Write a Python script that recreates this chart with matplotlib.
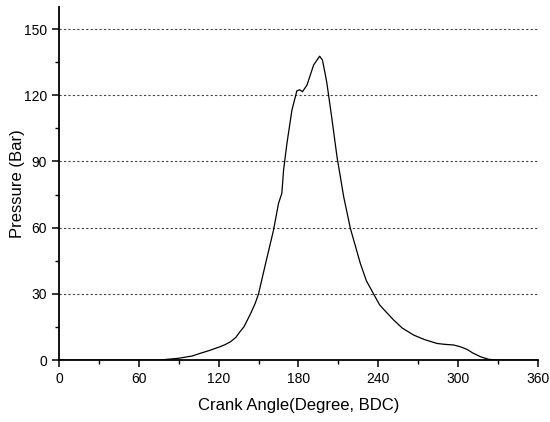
import matplotlib
matplotlib.use("Agg")
import matplotlib.pyplot as plt
from matplotlib.ticker import MultipleLocator

plt.rcParams["font.family"] = ["Liberation Sans", "DejaVu Sans"]

crank_angle = [0, 60, 76, 90, 100, 106, 113, 121, 125, 129, 133, 136, 139,
               141, 144, 147.5, 150, 155, 161.3, 165, 167.5, 168.8, 171.3,
               175.1, 178.8, 181, 183, 186.4, 191.4, 195.9, 198, 200, 201.4,
               205, 209, 214, 219, 226.5, 231, 236.5, 241, 244, 251.6, 258,
               266.6, 275, 284.2, 290, 296.7, 301.7, 306.8, 311, 316.8, 323,
               330, 360]
pressure = [0, 0, 0, 0.8, 1.8, 3.0, 4.3, 6.0, 7.0, 8.3, 10.3, 12.8, 15.0,
            17.4, 21.0, 25.7, 30, 43, 59, 71, 75.5, 86, 98,
            113.3, 122, 122.5, 121.6, 124.6, 133.7, 137.7, 136, 130, 125.4,
            110, 92, 74, 59.7, 43.8, 36, 29.9, 25, 23, 18.1, 14.5,
            11.3, 9.2, 7.5, 7.1, 6.8, 6.0, 4.8, 3.2, 1.5, 0.3,
            0, 0]

x_ticks = [0, 60, 120, 180, 240, 300, 360]
y_ticks = [0, 30, 60, 90, 120, 150]

fig = plt.figure(figsize=(5.5, 4.22), dpi=100)
ax = fig.add_axes([0.1073, 0.1469, 0.8707, 0.8365])

for y in y_ticks[1:]:
    ax.axhline(y, color="#444444", lw=0.8, ls=(0, (2, 2)), zorder=1)

ax.plot(crank_angle, pressure, color="black", lw=0.9, zorder=3)

ax.set_xlim(0, 360)
ax.set_ylim(0, 160)
ax.set_xticks(x_ticks)
ax.set_yticks(y_ticks)
ax.xaxis.set_minor_locator(MultipleLocator(30))
ax.yaxis.set_minor_locator(MultipleLocator(15))
ax.tick_params(which="major", direction="out", length=5, width=1.1, labelsize=10)
ax.tick_params(which="minor", direction="out", length=3, width=1.0)

for side in ("top", "right"):
    ax.spines[side].set_visible(False)
for side in ("left", "bottom"):
    ax.spines[side].set_linewidth(1.3)

ax.set_xlabel("Crank Angle(Degree, BDC)", fontsize=12, labelpad=9)
ax.set_ylabel("Pressure (Bar)", fontsize=12, labelpad=-0.5)

fig.savefig("out.png", dpi=100)
